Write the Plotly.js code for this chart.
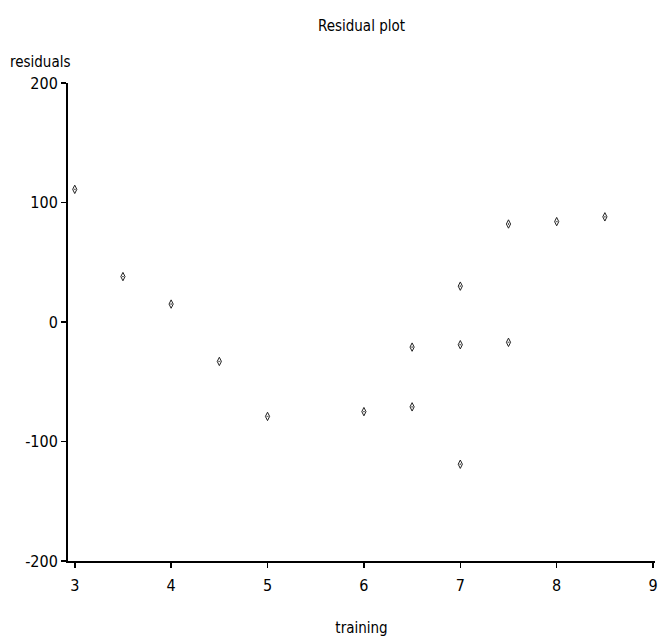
<!DOCTYPE html>
<html>
<head>
<meta charset="utf-8">
<script src="https://cdn.plot.ly/plotly-3.0.1.min.js"></script>
<style>html,body{margin:0;padding:0;background:#fff;}#chart{width:661px;height:639px;}</style>
</head>
<body>
<div id="chart"></div>
<script>
const training = [3, 3.5, 4, 4.5, 5, 6, 6.5, 6.5, 7, 7, 7, 7.5, 7.5, 8, 8.5];
const residuals = [111, 38, 15, -33, -79, -75, -21, -71, 30, -19, -119, 82, -17, 84, 88];
const xTicks = [3, 4, 5, 6, 7, 8, 9];
const yTicks = [-200, -100, 0, 100, 200];

const FONT = '"Liberation Sans Narrow", "Arial Narrow", "DejaVu Sans Condensed", "Liberation Sans", sans-serif';

const trace = {
  x: training, y: residuals, type: 'scatter', mode: 'markers',
  marker: {symbol: 'diamond-tall-open-dot', size: 6, color: '#222', line: {width: 1, color: '#222'}},
  hoverinfo: 'skip'
};

const layout = {
  width: 661, height: 639,
  margin: {l: 68, r: 6, t: 83, b: 78},
  paper_bgcolor: '#fff', plot_bgcolor: '#fff',
  showlegend: false,
  font: {family: FONT, color: '#000', size: 15},
  title: {text: 'Residual plot', x: 0.5, xref: 'paper', y: 0.96, yref: 'container', yanchor: 'middle', font: {family: FONT, size: 15, color: '#000'}},
  xaxis: {
    range: [2.93, 9.02], tickvals: xTicks, ticktext: xTicks.map(String),
    showgrid: false, zeroline: false, showline: true, linecolor: '#000', linewidth: 2,
    ticks: 'outside', ticklen: 5, tickwidth: 1.5, tickcolor: '#000', ticklabelstandoff: 4,
    tickfont: {family: FONT, size: 16, color: '#000'},
    title: {text: 'training', standoff: 28, font: {family: FONT, size: 15, color: '#000'}}
  },
  yaxis: {
    range: [-200, 200], tickvals: yTicks, ticktext: yTicks.map(String),
    showgrid: false, zeroline: false, showline: true, linecolor: '#000', linewidth: 2,
    ticks: 'outside', ticklen: 5, tickwidth: 1.5, tickcolor: '#000',
    tickfont: {family: FONT, size: 16, color: '#000'}
  },
  annotations: [{
    text: 'residuals', xref: 'paper', yref: 'paper', x: -0.103, y: 1.0, xanchor: 'left', yanchor: 'bottom',
    yshift: 10, showarrow: false, font: {family: FONT, size: 15, color: '#000'}
  }]
};

Plotly.newPlot('chart', [trace], layout, {displayModeBar: false, staticPlot: true});
</script>
</body>
</html>
